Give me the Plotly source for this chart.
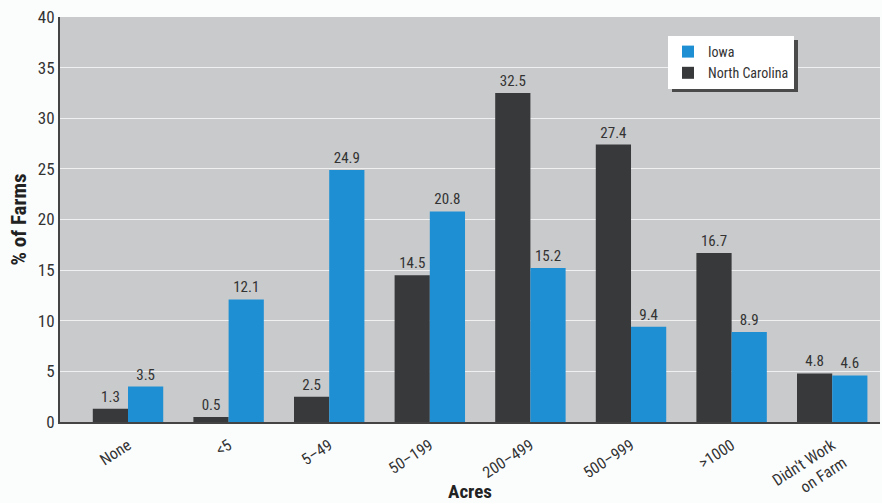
import plotly.graph_objects as go

categories = ["None", "<5", "5–49", "50–199", "200–499", "500–999", ">1000", "Didn't Work<br>on Farm"]
north_carolina = [1.3, 0.5, 2.5, 14.5, 32.5, 27.4, 16.7, 4.8]
iowa = [3.5, 12.1, 24.9, 20.8, 15.2, 9.4, 8.9, 4.6]
y_ticks = [0, 5, 10, 15, 20, 25, 30, 35, 40]

FONT = "Liberation Sans Narrow, Arial Narrow, Roboto Condensed, sans-serif"
idx = list(range(len(categories)))

fig = go.Figure()
fig.add_trace(go.Bar(
    x=idx, y=north_carolina, name="North Carolina",
    marker=dict(color="#37393a", line=dict(width=0)),
    text=[f"{v:.1f}" for v in north_carolina], textposition="outside",
    textfont=dict(family=FONT, size=15, color="#333333"), cliponaxis=False,
))
fig.add_trace(go.Bar(
    x=idx, y=iowa, name="Iowa",
    marker=dict(color="#1f8fd3", line=dict(width=0)),
    text=[f"{v:.1f}" for v in iowa], textposition="outside",
    textfont=dict(family=FONT, size=15, color="#333333"), cliponaxis=False,
))

# legend drop shadow (right and bottom edges)
fig.add_shape(type="rect", xref="paper", yref="paper",
              x0=(794 - 60) / 820, x1=(798 - 60) / 820,
              y0=(422 - 92) / 405, y1=(422 - 40) / 405,
              fillcolor="#4a4a4a", line=dict(width=0), layer="above")
fig.add_shape(type="rect", xref="paper", yref="paper",
              x0=(672 - 60) / 820, x1=(798 - 60) / 820,
              y0=(422 - 92) / 405, y1=(422 - 88) / 405,
              fillcolor="#4a4a4a", line=dict(width=0), layer="above")

fig.update_layout(
    width=882, height=503,
    margin=dict(l=60, r=2, t=17, b=81),
    paper_bgcolor="#fbfdfd", plot_bgcolor="#c8cacb",
    barmode="group", bargap=0.3, bargroupgap=0,
    font=dict(family=FONT, size=15, color="#333333"),
    showlegend=True,
    legend=dict(x=(668 - 60) / 820, y=(422 - 36) / 405, xanchor="left", yanchor="top",
                bgcolor="#ffffff", borderwidth=0, traceorder="reversed",
                font=dict(family=FONT, size=14, color="#333333"),
                itemwidth=30, tracegroupgap=0),
    xaxis=dict(
        tickmode="array", tickvals=idx, ticktext=categories,
        range=[-0.676, 7.475], tickangle=-33, showgrid=False, automargin=False,
        showline=True, linecolor="#444444", linewidth=2, ticks="",
        ticklabelstandoff=6,
        tickfont=dict(family=FONT, size=16, color="#333333"),
        title=dict(text="<b>Acres</b>", font=dict(family=FONT, size=19, color="#222222"), standoff=4),
        zeroline=False,
    ),
    yaxis=dict(
        range=[0, 40], tickvals=y_ticks, showgrid=True, gridcolor="#f0f0f0", gridwidth=1,
        automargin=False,
        showline=True, linecolor="#444444", linewidth=2, ticks="",
        tickfont=dict(family=FONT, size=17, color="#333333"),
        title=dict(text="<b>% of Farms</b>", font=dict(family=FONT, size=21, color="#222222"), standoff=5),
        zeroline=False,
    ),
)

fig.write_html("out.html")
